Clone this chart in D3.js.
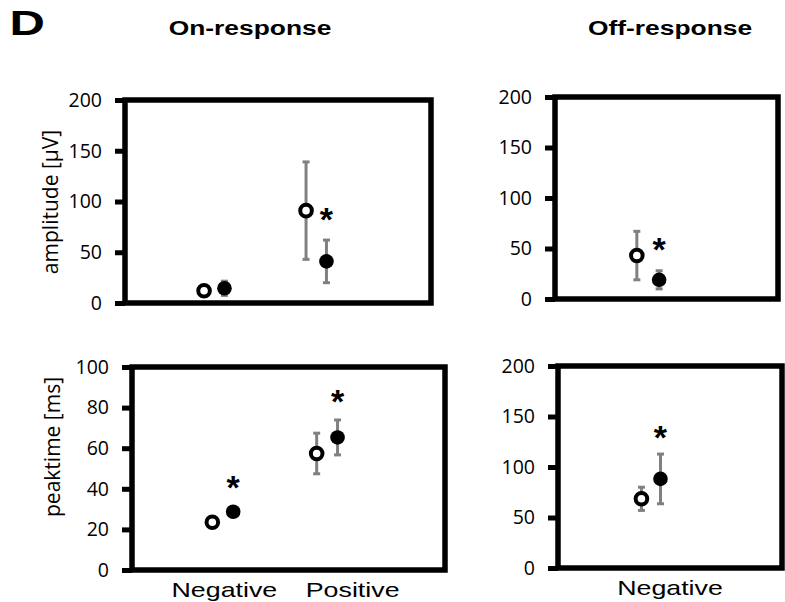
<!DOCTYPE html>
<html><head><meta charset="utf-8">
<script src="https://cdn.jsdelivr.net/npm/d3@7"></script>
<style>body{margin:0;background:#fff}svg{display:block}</style>
</head><body>
<script>
// ---- data ----
const onCategories = ["Negative", "Positive"];
const offCategories = ["Negative"];
const ampTicks = [0, 50, 100, 150, 200];
const peakOnTicks = [0, 20, 40, 60, 80, 100];
const peakOffTicks = [0, 50, 100, 150, 200];

const onAmpOpen = [12, 91];
const onAmpOpenErr = [5, 48];
const onAmpFilled = [14.5, 41];
const onAmpFilledErr = [7, 21];
const onAmpStar = [null, 87];

const offAmpOpen = [43];
const offAmpOpenErr = [24];
const offAmpFilled = [19];
const offAmpFilledErr = [9];
const offAmpStar = [53.5];

const onPeakOpen = [23.5, 57.4];
const onPeakOpenErr = [2, 10];
const onPeakFilled = [28.7, 65.3];
const onPeakFilledErr = [2, 8.6];
const onPeakStar = [43, 85];

const offPeakOpen = [68.5];
const offPeakOpenErr = [11.5];
const offPeakFilled = [88.2];
const offPeakFilledErr = [24.6];
const offPeakStar = [134];

const svg = d3.select("body").append("svg").attr("width", 785).attr("height", 602);

const TICKFONT = "'Open Sans', sans-serif";
const ARIAL = "'Liberation Sans', Arial, sans-serif";

function stretchedText(x, y, txt, size, sx, weight, anchor) {
  svg.append("text")
    .attr("transform", `translate(${x},${y}) scale(${sx},1)`)
    .attr("text-anchor", anchor || "middle")
    .attr("font-family", ARIAL)
    .attr("font-weight", weight || "normal")
    .attr("font-size", size)
    .attr("fill", "#000")
    .text(txt);
}

function panel(cfg) {
  const g = svg.append("g");
  const x = d3.scaleLinear().domain(cfg.xDomain).range([cfg.left, cfg.right]);
  const y = d3.scaleLinear().domain([0, cfg.yMax]).range([cfg.bottom, cfg.top]);

  const ax = g.append("g").attr("transform", `translate(${cfg.left},0)`)
    .call(d3.axisLeft(y).tickValues(cfg.ticks).tickSize(10).tickSizeOuter(0).tickPadding(13));
  ax.select(".domain").remove();
  ax.selectAll(".tick line").attr("stroke", "#000").attr("stroke-width", 5);
  ax.selectAll(".tick text").attr("font-family", TICKFONT).attr("font-size", 19.5).attr("fill", "#000");

  g.append("rect")
    .attr("x", cfg.left).attr("y", cfg.top)
    .attr("width", cfg.right - cfg.left).attr("height", cfg.bottom - cfg.top)
    .attr("fill", "none").attr("stroke", "#000").attr("stroke-width", 5.5);

  const series = [
    {vals: cfg.open, err: cfg.openErr, off: -cfg.offset, filled: false},
    {vals: cfg.filled, err: cfg.filledErr, off: cfg.offset, filled: true}
  ];
  series.forEach(s => {
    s.vals.forEach((v, i) => {
      const cx = x(i + 1 + s.off);
      const e = s.err[i];
      const eg = g.append("g").attr("stroke", "#808080").attr("stroke-width", 3);
      eg.append("line").attr("x1", cx).attr("x2", cx).attr("y1", y(v - e)).attr("y2", y(v + e));
      eg.append("line").attr("x1", cx - 3.5).attr("x2", cx + 3.5).attr("y1", y(v + e)).attr("y2", y(v + e));
      eg.append("line").attr("x1", cx - 3.5).attr("x2", cx + 3.5).attr("y1", y(v - e)).attr("y2", y(v - e));
    });
  });
  series.forEach(s => {
    s.vals.forEach((v, i) => {
      const cx = x(i + 1 + s.off);
      if (s.filled) {
        g.append("circle").attr("cx", cx).attr("cy", y(v)).attr("r", 7.3).attr("fill", "#000");
      } else {
        g.append("circle").attr("cx", cx).attr("cy", y(v)).attr("r", 5.8)
          .attr("fill", "#fff").attr("stroke", "#000").attr("stroke-width", 4);
      }
    });
  });
  cfg.star.forEach((v, i) => {
    if (v == null) return;
    g.append("text").attr("x", x(i + 1 + cfg.offset)).attr("y", y(v) + 16)
      .attr("text-anchor", "middle").attr("font-family", ARIAL).attr("font-weight", "bold")
      .attr("font-size", 34).attr("fill", "#000").text("*");
  });

  if (cfg.labels) {
    const px = d3.scalePoint().domain(cfg.labels).range([cfg.left, cfg.right]).padding(cfg.labelPad);
    cfg.labels.forEach(c => stretchedText(px(c), cfg.bottom + 27, c, 20, 1.34));
  }
  if (cfg.yLabel) {
    g.append("text")
      .attr("transform", `translate(${cfg.yLabelX},${cfg.yLabelY}) rotate(-90)`)
      .attr("text-anchor", "middle").attr("dominant-baseline", "central")
      .attr("font-family", TICKFONT).attr("font-size", 21).attr("fill", "#000")
      .text(cfg.yLabel);
  }
}

panel({left: 125, right: 431, top: 100, bottom: 303, yMax: 200, ticks: ampTicks,
  xDomain: [0.125, 3.125], offset: 0.1,
  open: onAmpOpen, openErr: onAmpOpenErr, filled: onAmpFilled, filledErr: onAmpFilledErr, star: onAmpStar,
  yLabel: "amplitude [µV]", yLabelX: 50, yLabelY: 202});

panel({left: 555, right: 778, top: 97, bottom: 299, yMax: 200, ticks: ampTicks,
  xDomain: [0.166, 2.166], offset: 0.1,
  open: offAmpOpen, openErr: offAmpOpenErr, filled: offAmpFilled, filledErr: offAmpFilledErr, star: offAmpStar});

panel({left: 132, right: 445, top: 367, bottom: 570, yMax: 100, ticks: peakOnTicks,
  xDomain: [0.13, 3.13], offset: 0.1,
  open: onPeakOpen, openErr: onPeakOpenErr, filled: onPeakFilled, filledErr: onPeakFilledErr, star: onPeakStar,
  labels: onCategories, labelPad: 0.72,
  yLabel: "peaktime [ms]", yLabelX: 52, yLabelY: 447});

panel({left: 558, right: 782, top: 366, bottom: 568, yMax: 200, ticks: peakOffTicks,
  xDomain: [0.17, 2.17], offset: 0.085,
  open: offPeakOpen, openErr: offPeakOpenErr, filled: offPeakFilled, filledErr: offPeakFilledErr, star: offPeakStar,
  labels: offCategories, labelPad: 0.5});

// titles
stretchedText(9.4, 35, "D", 35, 1.4, "bold", "start");
stretchedText(250, 35, "On-response", 20, 1.32, "bold");
stretchedText(670, 35, "Off-response", 20, 1.32, "bold");
</script>
</body></html>
